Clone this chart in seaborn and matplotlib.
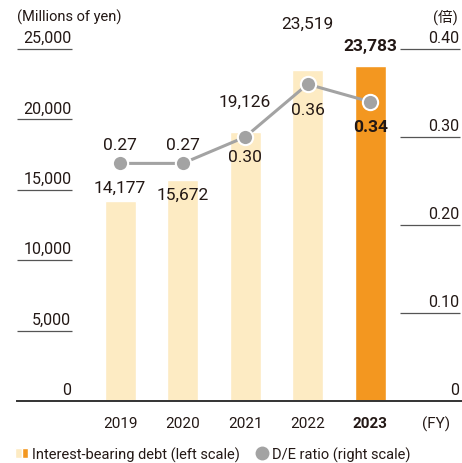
import numpy as np
import pandas as pd
import seaborn as sns
import matplotlib.pyplot as plt
from matplotlib.patches import Patch
from matplotlib.lines import Line2D
from matplotlib.legend_handler import HandlerTuple

# datos
years = ['2019', '2020', '2021', '2022', '2023']
debt = [14177, 15672, 19126, 23519, 23783]
de_ratio = [0.27, 0.27, 0.30, 0.36, 0.34]
left_ticks = [0, 5000, 10000, 15000, 20000, 25000]
right_ticks = [0, 0.10, 0.20, 0.30, 0.40]
right_labels = ['0', '0.10', '0.20', '0.30', '0.40']

# desplazamientos de etiquetas (pixeles)
debt_offset = [14, -14, 30, 47, 21]
ratio_offset = [19, 19, -20, -25, -25]

light = '#FDEBC3'
orange = '#F39720'
gray = '#A3A3A3'
txt = '#231815'

sns.set_theme(style='white')
plt.rcParams['font.family'] = ['Roboto', 'Noto Sans CJK JP', 'DejaVu Sans']
plt.rcParams['text.color'] = txt

df = pd.DataFrame({'year': years, 'debt': debt, 'ratio': de_ratio})

fig = plt.figure(figsize=(4.62, 4.64), dpi=100)
ax = fig.add_axes([17 / 462, 62 / 464, 445 / 462, 352 / 464])

colors = [light] * 4 + [orange]
sns.barplot(data=df, x='year', y='debt', hue='year', palette=colors, width=0.5,
            legend=False, ax=ax, saturation=1)
ax.set_ylim(0, 25000)
ax.set_xlim(-1.65, 5.47)

ax2 = ax.twinx()
x = np.arange(len(years))
ax2.plot(x, de_ratio, color=gray, lw=2.2, marker='o', ms=11,
         mfc=gray, mec='white', mew=1.5, zorder=5)
ax2.set_ylim(0, 0.4)
ax2.set_xlim(-1.65, 5.47)

for a in (ax, ax2):
    for s in a.spines.values():
        s.set_visible(False)
    a.set_yticks([])
    a.set_ylabel('')
    a.set_xlabel('')
ax.set_xticks([])
ax.spines['bottom'].set_visible(True)
ax.spines['bottom'].set_color('#333333')
ax.spines['bottom'].set_linewidth(1.4)

# ejes propios
for t in left_ticks[1:]:
    ax.hlines(t, -1.65, -0.77, color='#555555', lw=0.9, clip_on=False)
for t in left_ticks:
    ax.annotate(f'{t:,}', (-0.78, t), xytext=(0, 4), textcoords='offset pixels',
                ha='right', va='bottom', fontsize=11.5, annotation_clip=False)
for t, l in zip(right_ticks, right_labels):
    if t > 0:
        ax2.hlines(t, 4.48, 5.44, color='#555555', lw=0.9, clip_on=False)
    ax2.annotate(l, (5.43, t), xytext=(0, 4), textcoords='offset pixels',
                 ha='right', va='bottom', fontsize=11.5, annotation_clip=False)

for i, y in enumerate(years):
    ax.text(i, -22 / 352 * 25000, y, ha='center', va='center', fontsize=11,
            fontweight='bold' if i == 4 else 'normal')
ax.text(5.05, -22 / 352 * 25000, '(FY)', ha='center', va='center', fontsize=11)

fig.text(17 / 462, 1 - 17 / 464, '(Millions of yen)', ha='left', va='center', fontsize=10.5)
fig.text(445 / 462, 1 - 17 / 464, '(倍)', ha='center', va='center', fontsize=10.5)

# etiquetas de valores
for i, (v, off) in enumerate(zip(debt, debt_offset)):
    ax.annotate(f'{v:,}', (i, v), xytext=(0, off), textcoords='offset pixels',
                ha='center', va='center', fontsize=12.5,
                fontweight='bold' if i == 4 else 'normal', zorder=6)
for i, (v, off) in enumerate(zip(de_ratio, ratio_offset)):
    ax2.annotate(f'{v:.2f}', (i, v), xytext=(0, off), textcoords='offset pixels',
                 ha='center', va='center', fontsize=12.5,
                 fontweight='bold' if i == 4 else 'normal', zorder=6)

handles = [(Patch(fc=light), Patch(fc=orange)),
           Line2D([], [], marker='o', color='none', mfc=gray, mec='none', ms=10)]
fig.legend(handles, ['Interest-bearing debt (left scale)', 'D/E ratio (right scale)'],
           handler_map={tuple: HandlerTuple(ndivide=None, pad=0)},
           loc='center left', bbox_to_anchor=(15 / 462, 1 - 455 / 464), frameon=False,
           ncol=2, fontsize=10.5, handlelength=0.9, handletextpad=0.3,
           columnspacing=1.0, borderaxespad=0, borderpad=0)

fig.savefig('out.png', dpi=100)
